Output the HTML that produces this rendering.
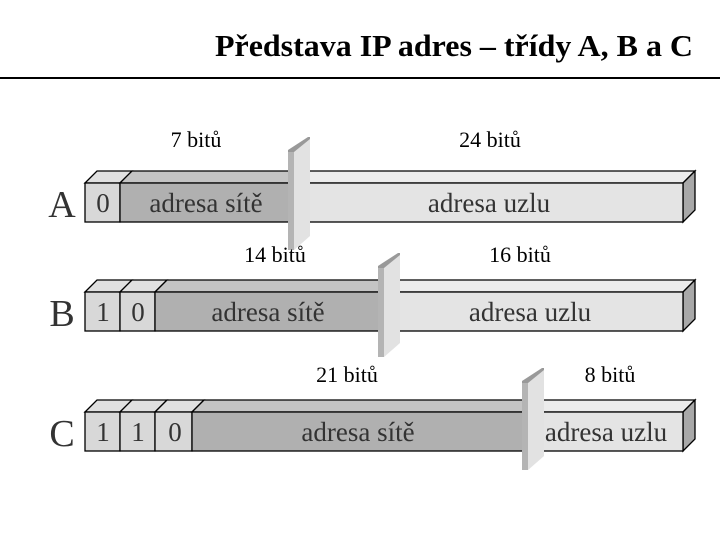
<!DOCTYPE html>
<html><head><meta charset="utf-8"><style>
body{margin:0;background:#fff}
svg{display:block}
text{font-family:"Liberation Serif",serif}
</style></head><body>
<svg width="720" height="540" viewBox="0 0 720 540">
<text x="693" y="56" text-anchor="end" font-size="31" font-weight="bold" textLength="478" lengthAdjust="spacingAndGlyphs">Představa IP adres – třídy A, B a C</text>
<rect x="0" y="77" width="720" height="2" fill="#000"/>
<g stroke="#000" stroke-width="1.3">
<polygon points="85,183 97,171 132,171 120,183" fill="#e0e0e0"/>
<rect x="85" y="183" width="35" height="39" fill="#d8d8d8"/>
<polygon points="120,183 132,171 302,171 290,183" fill="#c4c4c4"/>
<rect x="120" y="183" width="170" height="39" fill="#b0b0b0"/>
<polygon points="295,183 307,171 695,171 683,183" fill="#ececec"/>
<polygon points="683,183 695,171 695,210 683,222" fill="#a8a8a8"/>
<rect x="295" y="183" width="388" height="39" fill="#e4e4e4"/>
<polygon points="85,292 97,280 132,280 120,292" fill="#e0e0e0"/>
<rect x="85" y="292" width="35" height="39" fill="#d8d8d8"/>
<polygon points="120,292 132,280 167,280 155,292" fill="#e0e0e0"/>
<rect x="120" y="292" width="35" height="39" fill="#d8d8d8"/>
<polygon points="155,292 167,280 392,280 380,292" fill="#c4c4c4"/>
<rect x="155" y="292" width="225" height="39" fill="#b0b0b0"/>
<polygon points="385,292 397,280 695,280 683,292" fill="#ececec"/>
<polygon points="683,292 695,280 695,319 683,331" fill="#a8a8a8"/>
<rect x="385" y="292" width="298" height="39" fill="#e4e4e4"/>
<polygon points="85,412 97,400 132,400 120,412" fill="#e0e0e0"/>
<rect x="85" y="412" width="35" height="39" fill="#d8d8d8"/>
<polygon points="120,412 132,400 167,400 155,412" fill="#e0e0e0"/>
<rect x="120" y="412" width="35" height="39" fill="#d8d8d8"/>
<polygon points="155,412 167,400 204,400 192,412" fill="#e0e0e0"/>
<rect x="155" y="412" width="37" height="39" fill="#d8d8d8"/>
<polygon points="192,412 204,400 537,400 525,412" fill="#c4c4c4"/>
<rect x="192" y="412" width="333" height="39" fill="#b0b0b0"/>
<polygon points="530,412 542,400 695,400 683,412" fill="#ececec"/>
<polygon points="683,412 695,400 695,439 683,451" fill="#a8a8a8"/>
<rect x="530" y="412" width="153" height="39" fill="#e4e4e4"/>
</g>
<g>
<polygon points="288,150 294,150 294,250 288,250" fill="#b4b4b4"/>
<polygon points="294,150 310,137 310,236 294,250" fill="#e2e2e2"/>
<polygon points="288,150 308,137 310,137 310,139 294,152 288,152" fill="#999"/>
<polygon points="378,266 384,266 384,357 378,357" fill="#b4b4b4"/>
<polygon points="384,266 400,253 400,343 384,357" fill="#e2e2e2"/>
<polygon points="378,266 398,253 400,253 400,255 384,268 378,268" fill="#999"/>
<polygon points="522,381 528,381 528,470 522,470" fill="#b4b4b4"/>
<polygon points="528,381 544,368 544,456 528,470" fill="#e2e2e2"/>
<polygon points="522,381 542,368 544,368 544,370 528,383 522,383" fill="#999"/>
</g>
<g font-size="27" fill="#333" text-anchor="middle">
<text x="103" y="212">0</text>
<text x="206" y="212">adresa sítě</text>
<text x="489" y="212">adresa uzlu</text>
<text x="103" y="321">1</text>
<text x="138" y="321">0</text>
<text x="268" y="321">adresa sítě</text>
<text x="530" y="321">adresa uzlu</text>
<text x="103" y="441">1</text>
<text x="138" y="441">1</text>
<text x="175" y="441">0</text>
<text x="358" y="441">adresa sítě</text>
<text x="606" y="441">adresa uzlu</text>
</g>
<g font-size="38" fill="#333" text-anchor="middle">
<text x="62" y="217">A</text>
<text x="62" y="326">B</text>
<text x="62" y="446">C</text>
</g>
<g font-size="22" fill="#000" text-anchor="middle">
<text x="196" y="147">7 bitů</text>
<text x="490" y="147">24 bitů</text>
<text x="275" y="262">14 bitů</text>
<text x="520" y="262">16 bitů</text>
<text x="347" y="382">21 bitů</text>
<text x="610" y="382">8 bitů</text>
</g>
</svg>
</body></html>
